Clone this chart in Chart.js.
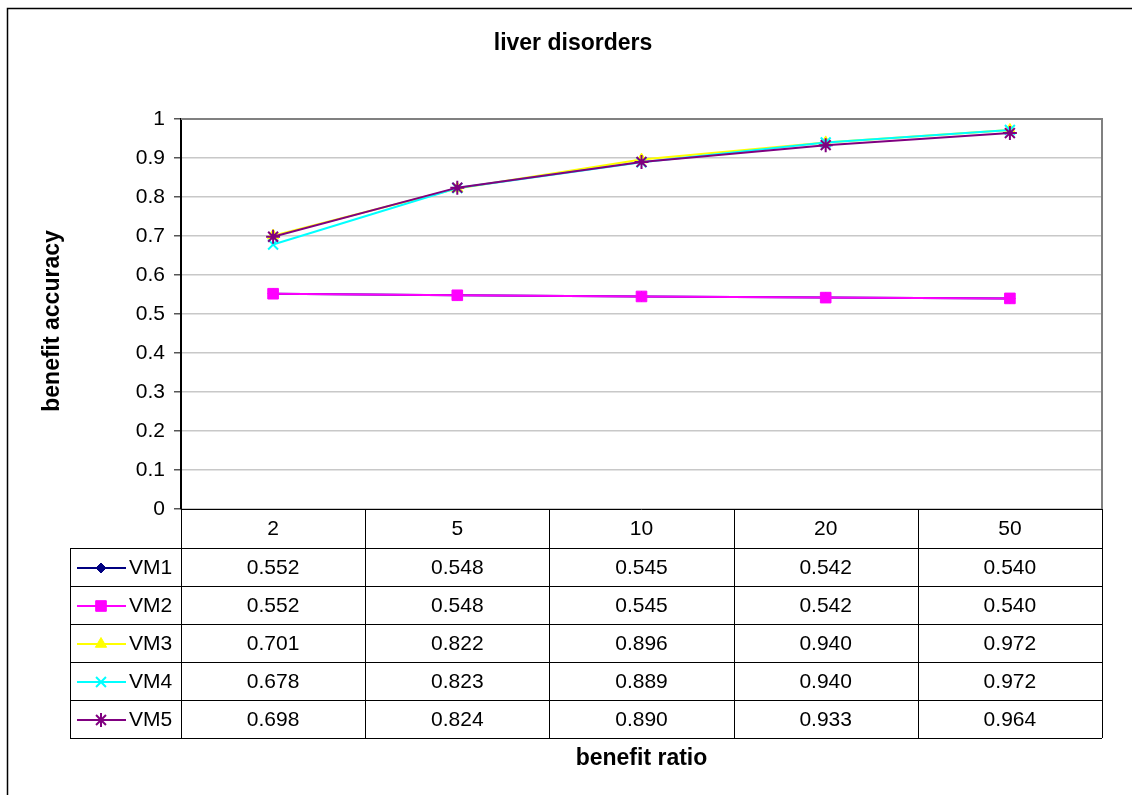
<!DOCTYPE html>
<html>
<head>
<meta charset="utf-8">
<title>liver disorders</title>
<script src="https://cdn.jsdelivr.net/npm/chart.js@4/dist/chart.umd.min.js"></script>
<style>
  html, body { margin: 0; padding: 0; background: #fff; }
  #wrap { width: 1132px; height: 795px; }
</style>
</head>
<body>
<div id="wrap"><canvas id="chart" width="1132" height="795"></canvas></div>
<script>
const chartTitle = 'liver disorders';
const xTitle = 'benefit ratio';
const yTitle = 'benefit accuracy';
const categories = ['2', '5', '10', '20', '50'];
const seriesNames = ['VM1', 'VM2', 'VM3', 'VM4', 'VM5'];
const vm1 = [0.552, 0.548, 0.545, 0.542, 0.540];
const vm2 = [0.552, 0.548, 0.545, 0.542, 0.540];
const vm3 = [0.701, 0.822, 0.896, 0.940, 0.972];
const vm4 = [0.678, 0.823, 0.889, 0.940, 0.972];
const vm5 = [0.698, 0.824, 0.890, 0.933, 0.964];

const seriesColors = ['#000080', '#ff00ff', '#ffff00', '#00ffff', '#800080'];
const seriesMarkers = ['rectRot', 'rect', 'triangle', 'crossRot', 'star'];
const markerRadius = [5, 7.5, 6.5, 7, 7];
const seriesValues = [vm1, vm2, vm3, vm4, vm5];

const FONT = '"Liberation Sans", Arial, sans-serif';
const ROW_H = 38;
const LEGEND_LEFT = 70;

const datasets = seriesNames.map((name, i) => ({
  label: name,
  data: seriesValues[i],
  borderColor: seriesColors[i],
  backgroundColor: seriesColors[i],
  pointStyle: seriesMarkers[i],
  pointRadius: markerRadius[i],
  pointBorderWidth: seriesMarkers[i] === 'crossRot' || seriesMarkers[i] === 'star' ? 2 : 1,
  borderWidth: 2,
  tension: 0,
  order: 5 - i,
}));

// Frame, titles and the data table below the plot
const excelDecor = {
  id: 'excelDecor',
  beforeDraw(chart) {
    const ctx = chart.ctx;
    ctx.save();
    ctx.fillStyle = '#fff';
    ctx.fillRect(0, 0, chart.width, chart.height);
    ctx.strokeStyle = '#000';
    ctx.lineWidth = 1.5;
    ctx.strokeRect(7.5, 8.5, chart.width + 20, chart.height + 20);
    ctx.restore();
  },
  afterDraw(chart) {
    const ctx = chart.ctx;
    const a = chart.chartArea;
    const xs = chart.scales.x;
    const colW = (a.right - a.left) / categories.length;
    ctx.save();

    // plot border (top / right)
    ctx.strokeStyle = '#808080';
    ctx.lineWidth = 2;
    ctx.beginPath();
    ctx.moveTo(a.left, a.top);
    ctx.lineTo(a.right, a.top);
    ctx.lineTo(a.right, a.bottom);
    ctx.stroke();

    // titles
    ctx.fillStyle = '#000';
    ctx.font = 'bold 23px ' + FONT;
    ctx.textAlign = 'center';
    ctx.textBaseline = 'middle';
    ctx.fillText(chartTitle, 573, 44);
    ctx.fillText(xTitle, (a.left + a.right) / 2, 759);
    ctx.save();
    ctx.translate(53, 321);
    ctx.rotate(-Math.PI / 2);
    ctx.fillText(yTitle, 0, 0);
    ctx.restore();

    // data table
    const top = a.bottom;
    const hdrBottom = top + 39;
    const tblBottom = hdrBottom + ROW_H * seriesNames.length;
    ctx.strokeStyle = '#000';
    ctx.lineWidth = 1;
    ctx.beginPath();
    ctx.moveTo(a.left, Math.round(top) + 0.5);
    ctx.lineTo(a.right, Math.round(top) + 0.5);
    for (let r = 0; r <= seriesNames.length; r++) {
      const y = Math.round(hdrBottom + r * ROW_H) + 0.5;
      ctx.moveTo(LEGEND_LEFT, y);
      ctx.lineTo(a.right, y);
    }
    for (let c = 0; c <= categories.length; c++) {
      const x = Math.round(a.left + c * colW) + 0.5;
      ctx.moveTo(x, top);
      ctx.lineTo(x, tblBottom);
    }
    ctx.moveTo(LEGEND_LEFT + 0.5, hdrBottom);
    ctx.lineTo(LEGEND_LEFT + 0.5, tblBottom);
    ctx.stroke();

    ctx.font = '21px ' + FONT;
    ctx.textBaseline = 'middle';
    ctx.textAlign = 'center';
    categories.forEach((cat, c) => {
      ctx.fillText(cat, xs.getPixelForValue(c), (top + hdrBottom) / 2 + 1);
    });
    seriesNames.forEach((name, r) => {
      const cy = hdrBottom + r * ROW_H + ROW_H / 2 + 1;
      ctx.textAlign = 'center';
      ctx.fillStyle = '#000';
      seriesValues[r].forEach((v, c) => {
        ctx.fillText(v.toFixed(3), xs.getPixelForValue(c), cy);
      });
      // legend key
      ctx.strokeStyle = seriesColors[r];
      ctx.lineWidth = 2;
      ctx.beginPath();
      ctx.moveTo(77, cy);
      ctx.lineTo(126, cy);
      ctx.stroke();
      const ds = datasets[r];
      ctx.fillStyle = seriesColors[r];
      ctx.lineWidth = ds.pointBorderWidth;
      Chart.helpers.drawPoint(ctx, { pointStyle: ds.pointStyle, radius: ds.pointRadius, rotation: 0, borderWidth: ds.pointBorderWidth }, 101, cy);
      ctx.fillStyle = '#000';
      ctx.textAlign = 'left';
      ctx.fillText(name, 129, cy);
    });
    ctx.restore();
  }
};

new Chart(document.getElementById('chart'), {
  type: 'line',
  data: { labels: categories, datasets: datasets },
  options: {
    responsive: false,
    animation: false,
    layout: { padding: { left: 0, top: 119, right: 30, bottom: 286 } },
    plugins: { legend: { display: false }, tooltip: { enabled: false }, title: { display: false } },
    scales: {
      x: { type: 'category', offset: true, display: false },
      y: {
        min: 0, max: 1,
        afterFit: (s) => { s.width = 181; },
        ticks: {
          stepSize: 0.1,
          color: '#000',
          padding: 9,
          font: { family: FONT, size: 21 },
          callback: (v) => String(+v.toFixed(1)),
        },
        grid: { color: '#c8c8c8', lineWidth: 1.5, tickColor: '#555', tickLength: 7, drawTicks: true },
        border: { color: '#000', width: 2 },
      }
    }
  },
  plugins: [excelDecor]
});
</script>
</body>
</html>
